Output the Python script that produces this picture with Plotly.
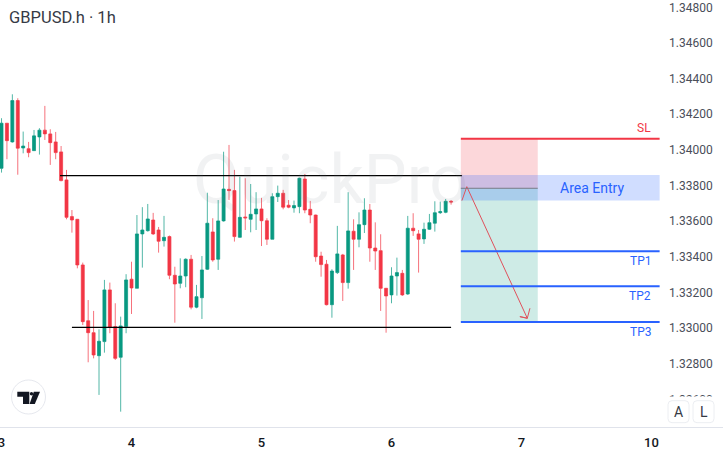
import plotly.graph_objects as go

# hourly candles
opens = [1.33897, 1.34150, 1.34045, 1.34277, 1.34011, 1.34007, 1.33996, 1.34073, 1.34111, 1.34090, 1.34045, 1.33989,
         1.33832, 1.33626, 1.33611, 1.33355, 1.33042, 1.32975, 1.32846, 1.32925, 1.33215, 1.33009, 1.32837, 1.33009,
         1.33275, 1.33224, 1.33529, 1.33547, 1.33607, 1.33551, 1.33491, 1.33514, 1.33297, 1.33252, 1.33293, 1.33387,
         1.33118, 1.33171, 1.33331, 1.33540, 1.33387, 1.33602, 1.33779, 1.33772, 1.33510, 1.33624, 1.33611, 1.33641,
         1.33669, 1.33603, 1.33499, 1.33738, 1.33757, 1.33690, 1.33675, 1.33682, 1.33837, 1.33667, 1.33635, 1.33405,
         1.33359, 1.33132, 1.33312, 1.33411, 1.33256, 1.33544, 1.33499, 1.33581, 1.33663, 1.33450, 1.33435, 1.33224,
         1.33187, 1.33293, 1.33308, 1.33192, 1.33561, 1.33529, 1.33501, 1.33555, 1.33589, 1.33648, 1.33650, 1.33712]
highs = [1.34178, 1.34151, 1.34312, 1.34290, 1.34103, 1.34045, 1.34112, 1.34122, 1.34247, 1.34116, 1.34101, 1.34022,
         1.33888, 1.33663, 1.33613, 1.33368, 1.33158, 1.33097, 1.32994, 1.33271, 1.33256, 1.33140, 1.33065, 1.33303,
         1.33373, 1.33635, 1.33679, 1.33697, 1.33647, 1.33568, 1.33630, 1.33520, 1.33345, 1.33392, 1.33392, 1.33411,
         1.33243, 1.33405, 1.33760, 1.33617, 1.33719, 1.33990, 1.34028, 1.33888, 1.33850, 1.33841, 1.33809, 1.33763,
         1.33731, 1.33617, 1.33757, 1.33800, 1.33776, 1.33719, 1.33716, 1.33845, 1.33865, 1.33714, 1.33637, 1.33429,
         1.33383, 1.33331, 1.33574, 1.33417, 1.33763, 1.33611, 1.33650, 1.33729, 1.33697, 1.33594, 1.33527, 1.33226,
         1.33342, 1.33396, 1.33327, 1.33630, 1.33645, 1.33551, 1.33592, 1.33641, 1.33712, 1.33710, 1.33725, 1.33719]
lows = [1.33873, 1.33948, 1.34041, 1.33861, 1.33981, 1.33959, 1.33996, 1.33974, 1.34056, 1.33916, 1.33948, 1.33824,
        1.33611, 1.33536, 1.33336, 1.33018, 1.32809, 1.32831, 1.32626, 1.32863, 1.32972, 1.32822, 1.32532, 1.32972,
        1.33080, 1.33224, 1.33340, 1.33542, 1.33523, 1.33424, 1.33458, 1.33275, 1.33031, 1.33224, 1.33230, 1.33106,
        1.33112, 1.33052, 1.33327, 1.33373, 1.33327, 1.33598, 1.33719, 1.33486, 1.33508, 1.33551, 1.33538, 1.33551,
        1.33461, 1.33467, 1.33499, 1.33708, 1.33667, 1.33673, 1.33648, 1.33645, 1.33645, 1.33589, 1.33373, 1.33289,
        1.33128, 1.33059, 1.33304, 1.33153, 1.33222, 1.33327, 1.33454, 1.33534, 1.33373, 1.33327, 1.33097, 1.32975,
        1.33140, 1.33183, 1.33181, 1.33187, 1.33518, 1.33312, 1.33473, 1.33551, 1.33542, 1.33641, 1.33645, 1.33693]
closes = [1.34150, 1.34052, 1.34277, 1.34010, 1.34022, 1.33985, 1.34079, 1.34111, 1.34090, 1.34041, 1.33985, 1.33828,
          1.33622, 1.33607, 1.33355, 1.33037, 1.32975, 1.32850, 1.32927, 1.33215, 1.33005, 1.32831, 1.33013, 1.33271,
          1.33226, 1.33529, 1.33551, 1.33613, 1.33529, 1.33488, 1.33510, 1.33297, 1.33248, 1.33293, 1.33387, 1.33118,
          1.33177, 1.33327, 1.33589, 1.33383, 1.33602, 1.33781, 1.33772, 1.33514, 1.33622, 1.33619, 1.33639, 1.33669,
          1.33603, 1.33499, 1.33738, 1.33757, 1.33679, 1.33679, 1.33688, 1.33841, 1.33663, 1.33635, 1.33401, 1.33357,
          1.33132, 1.33321, 1.33417, 1.33256, 1.33546, 1.33499, 1.33581, 1.33663, 1.33450, 1.33433, 1.33224, 1.33181,
          1.33293, 1.33312, 1.33187, 1.33561, 1.33547, 1.33499, 1.33555, 1.33592, 1.33648, 1.33654, 1.33712, 1.33708]
bars = list(range(len(opens)))

day_ticks = [0, 24, 48, 72, 96, 120]
day_labels = ["3", "4", "5", "6", "7", "10"]
price_ticks = [1.326, 1.328, 1.33, 1.332, 1.334, 1.336, 1.338, 1.34, 1.342, 1.344, 1.346, 1.348]
price_labels = ["%.5f" % p for p in price_ticks]

# trade levels
SL = 1.34063
ENTRY = 1.33785
AREA_TOP = 1.33859
AREA_BOTTOM = 1.33716
TP1 = 1.33432
TP2 = 1.33235
TP3 = 1.33035
RES_LINE = 1.33856
SUP_LINE = 1.33005

arrow_x = [85, 85.9, 97.07, 95.7, 97.07, 97.56]
arrow_y = [1.33716, 1.33794, 1.33056, 1.33065, 1.33056, 1.33112]

W, H = 723, 455
PLOT_W, PLOT_H = 660, 427
GREEN, RED, BLUE = "#089981", "#f23645", "#2962ff"

def px(x):
    return x / PLOT_W

def py(y):
    return 1 - y / PLOT_H

def box_path(x0, y0, x1, y1, r):
    return (f"M{px(x0 + r)},{py(y0)} L{px(x1 - r)},{py(y0)} Q{px(x1)},{py(y0)} {px(x1)},{py(y0 + r)} "
            f"L{px(x1)},{py(y1 - r)} Q{px(x1)},{py(y1)} {px(x1 - r)},{py(y1)} "
            f"L{px(x0 + r)},{py(y1)} Q{px(x0)},{py(y1)} {px(x0)},{py(y1 - r)} "
            f"L{px(x0)},{py(y0 + r)} Q{px(x0)},{py(y0)} {px(x0 + r)},{py(y0)} Z")

def poly_path(points):
    return "M" + " L".join(f"{px(x)},{py(y)}" for x, y in points) + " Z"

fig = go.Figure()
fig.add_trace(go.Candlestick(
    x=bars, open=opens, high=highs, low=lows, close=closes, whiskerwidth=0,
    increasing=dict(line=dict(color="rgba(8,153,129,0.7)", width=1), fillcolor=GREEN),
    decreasing=dict(line=dict(color="rgba(242,54,69,0.7)", width=1), fillcolor=RED),
    showlegend=False, hoverinfo="skip"))
fig.add_trace(go.Scatter(x=arrow_x, y=arrow_y, mode="lines", line=dict(color="#e0515c", width=1),
                         showlegend=False, hoverinfo="skip"))

shapes = [
    dict(type="rect", layer="below", x0=84.8, x1=99, y0=ENTRY, y1=SL, line_width=0, fillcolor="rgba(242,54,69,0.2)"),
    dict(type="rect", layer="below", x0=84.8, x1=99, y0=TP3, y1=ENTRY, line_width=0, fillcolor="rgba(8,153,129,0.2)"),
    dict(type="rect", layer="below", x0=84.8, x1=121.5, y0=AREA_BOTTOM, y1=AREA_TOP, line_width=0, fillcolor="rgba(41,98,255,0.22)"),
    dict(type="line", x0=84.8, x1=99, y0=ENTRY, y1=ENTRY, line=dict(color="#787b86", width=1)),
    dict(type="line", x0=10.8, x1=85, y0=RES_LINE, y1=RES_LINE, line=dict(color="#000000", width=1.2)),
    dict(type="line", x0=13, x1=83, y0=SUP_LINE, y1=SUP_LINE, line=dict(color="#000000", width=1.2)),
    dict(type="line", x0=84.8, x1=121.5, y0=SL, y1=SL, line=dict(color=RED, width=2)),
]
for lvl in [TP1, TP2, TP3]:
    shapes.append(dict(type="line", x0=84.8, x1=121.5, y0=lvl, y1=lvl, line=dict(color=BLUE, width=2)))

# TradingView badge and the A / L buttons sit on top of the pane
shapes.append(dict(type="circle", xref="paper", yref="paper", x0=px(11.5), x1=px(45.5), y0=py(414), y1=py(380),
                   fillcolor="#ffffff", line=dict(color="#e6e8ee", width=1)))
for pts in [[(17.3, 391.8), (29.3, 391.8), (29.3, 404), (23, 404), (23, 396.8), (17.3, 396.8)],
            [(33.8, 391.8), (40, 391.8), (34.8, 404), (29.6, 404)]]:
    shapes.append(dict(type="path", xref="paper", yref="paper", path=poly_path(pts), fillcolor="#131722", line_width=0))
shapes.append(dict(type="circle", xref="paper", yref="paper", x0=px(29.8), x1=px(33.2), y0=py(395.4), y1=py(392),
                   fillcolor="#131722", line_width=0))
shapes.append(dict(type="rect", xref="paper", yref="paper", x0=px(662), x1=px(723), y0=py(426), y1=py(396.5),
                   fillcolor="#ffffff", line_width=0))
for x0, x1 in [(668, 689), (693, 714)]:
    shapes.append(dict(type="path", xref="paper", yref="paper", path=box_path(x0, 400.7, x1, 422.7, 4),
                       fillcolor="#ffffff", line=dict(color="#eceef2", width=1)))

annotations = [
    dict(text="QuickPro", xref="paper", yref="paper", x=px(330), y=py(180), xanchor="center", yanchor="middle",
         showarrow=False, font=dict(family="Roboto", size=68, color="rgba(120,123,134,0.1)")),
    dict(text="GBPUSD.h · 1h", xref="paper", yref="paper", x=px(7), y=py(17), xanchor="left", yanchor="middle",
         showarrow=False, font=dict(family="Roboto", size=16.5, color="#363a45")),
    dict(text="SL", x=121, y=1.34123, xanchor="right", yanchor="middle", xshift=-4, showarrow=False,
         font=dict(family="Roboto", size=12, color=RED)),
    dict(text="Area Entry", x=109, y=1.33788, xanchor="center", yanchor="middle", showarrow=False,
         font=dict(family="Roboto", size=14, color=BLUE)),
    dict(text="A", xref="paper", yref="paper", x=px(678.5), y=py(411.7), xanchor="center", yanchor="middle",
         showarrow=False, font=dict(family="Roboto", size=14, color="#363a45")),
    dict(text="L", xref="paper", yref="paper", x=px(703.5), y=py(411.7), xanchor="center", yanchor="middle",
         showarrow=False, font=dict(family="Roboto", size=14, color="#363a45")),
]
for name, lvl in [("TP1", 1.33377), ("TP2", 1.33181), ("TP3", 1.32981)]:
    annotations.append(dict(text=name, x=121, y=lvl, xanchor="right", yanchor="middle", xshift=-4, showarrow=False,
                            font=dict(family="Roboto", size=12, color=BLUE)))

fig.update_layout(
    width=W, height=H, margin=dict(l=0, r=W - PLOT_W, t=0, b=H - PLOT_H, autoexpand=False),
    paper_bgcolor="#ffffff", plot_bgcolor="#ffffff", showlegend=False, boxgap=0.2,
    shapes=shapes, annotations=annotations,
    xaxis=dict(range=[-0.28, 121.57], tickmode="array", tickvals=day_ticks, ticktext=day_labels,
               showgrid=False, zeroline=False, rangeslider=dict(visible=False), ticks="", ticklabelstandoff=6,
               ticklabeloverflow="allow", showline=False,
               tickfont=dict(family="Roboto", size=13, color="#131722", weight=500)),
    yaxis=dict(range=[1.32446, 1.34841], side="right", tickmode="array", tickvals=price_ticks, ticktext=price_labels,
               showgrid=False, zeroline=False, ticks="", showline=False, ticklabelstandoff=8,
               ticklabeloverflow="allow", tickfont=dict(family="Roboto", size=12, color="#4a4e59")),
)
# the time axis rule runs across the price scale too
fig.add_shape(type="line", xref="paper", yref="paper", x0=0, x1=px(723), y0=py(427.5), y1=py(427.5),
              line=dict(color="#e0e3eb", width=1))

fig.write_html("out.html", config=dict(displayModeBar=False),
               post_script="document.body.style.margin='0';document.documentElement.style.overflow='hidden';")
